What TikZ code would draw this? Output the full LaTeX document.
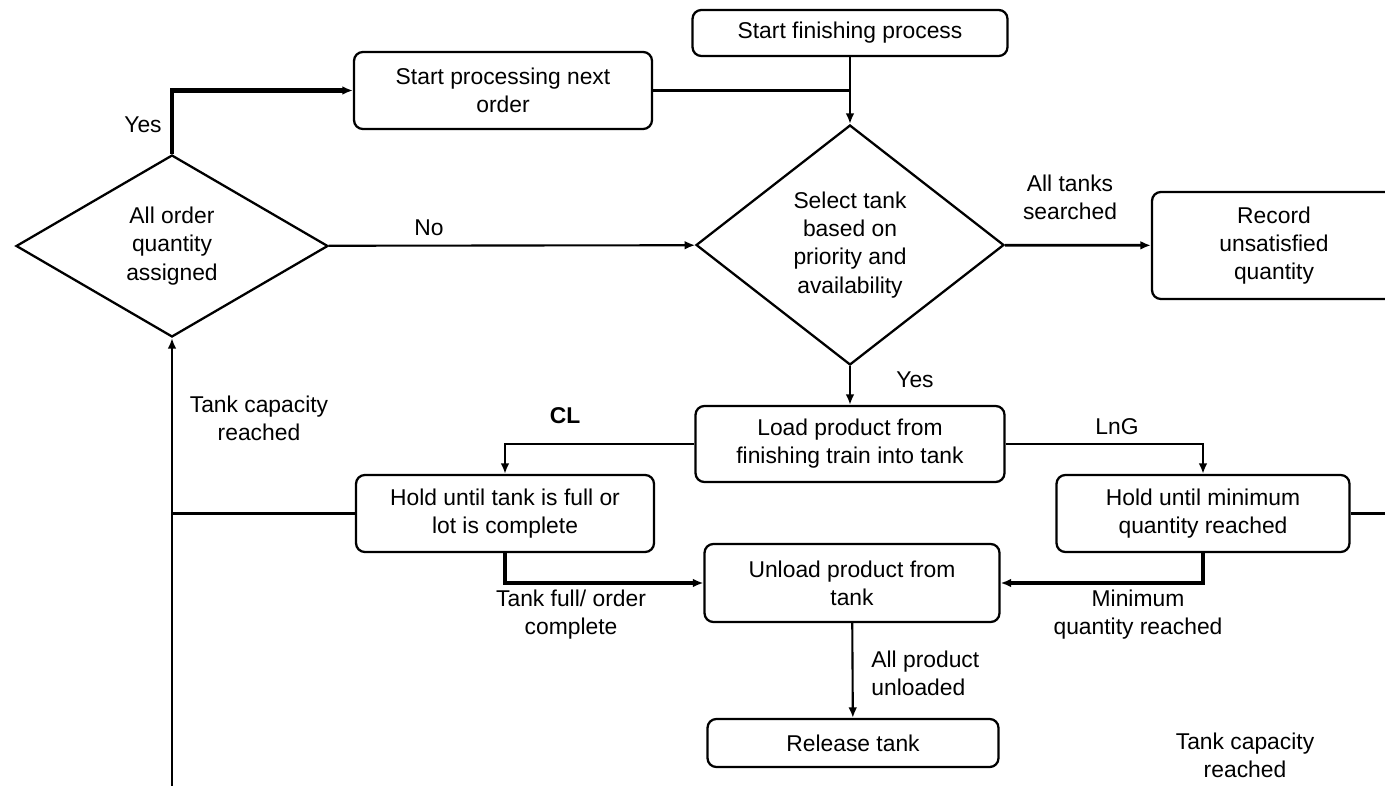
\documentclass[tikz,border=0pt]{standalone}
\usepackage{fontspec}
\setmainfont{Liberation Sans}
\usetikzlibrary{shapes.geometric,arrows.meta}

\begin{document}
\begin{tikzpicture}[x=0.02cm, y=-0.02cm,
  font=\fontsize{13}{16}\selectfont,
  box/.style={draw, line width=1.3pt, rounded corners=5pt, align=center, inner sep=2pt},
  dec/.style={draw, diamond, line width=1.3pt, align=center, inner sep=0pt},
  lbl/.style={align=center, inner sep=0pt},
  link/.style={line width=1.2pt, -{Latex[length=6pt,width=5pt]}},
  boldlink/.style={line width=2.4pt, -{Latex[length=6pt,width=5pt]}}]
\clip (0,0) rectangle (1385,786);
\node[box, minimum width=6.3cm, minimum height=0.92cm] (fin) at (850,33) {Start finishing process};
\node[box, minimum width=5.96cm, minimum height=1.54cm] (next) at (503,90.5) {Start processing next\\order};
\node[dec, minimum width=6.24cm, minimum height=3.64cm] (assign) at (172,246) {All order\\quantity\\assigned};
\node[dec, minimum width=6.16cm, minimum height=4.8cm] (sel) at (850,245) {Select tank\\based on\\priority and\\availability};
\node[box, minimum width=4.88cm, minimum height=2.14cm] (rec) at (1274,245.5) {Record\\unsatisfied\\quantity};
\node[box, minimum width=6.18cm, minimum height=1.52cm] (load) at (850,444) {Load product from\\finishing train into tank};
\node[box, minimum width=5.96cm, minimum height=1.54cm] (holdcl) at (505,513.5) {Hold until tank is full or\\lot is complete};
\node[box, minimum width=5.86cm, minimum height=1.54cm] (holdlng) at (1203,513.5) {Hold until minimum\\quantity reached};
\node[box, minimum width=5.9cm, minimum height=1.56cm] (unload) at (852,583) {Unload product from\\tank};
\node[box, minimum width=5.82cm, minimum height=0.96cm] (release) at (853,743) {Release tank};
\coordinate (bot) at (172,800);
\coordinate (redge) at (1400,513.5);

\node[lbl] (yesa) at (143,125) {Yes};
\node[lbl] (no) at (429,228) {No};
\node[lbl] (searched) at (1070,197) {All tanks\\searched};
\node[lbl] (yesb) at (915,380) {Yes};
\node[lbl] (capa) at (259,418) {Tank capacity\\reached};
\node[lbl, font=\fontsize{13}{16}\selectfont\bfseries] (cl) at (565,416) {CL};
\node[lbl] (lng) at (1117,427) {LnG};
\node[lbl] (full) at (571,615) {Tank full/ order\\complete};
\node[lbl] (minq) at (1138,615) {Minimum\\quantity reached};
\node[lbl, anchor=west, align=left] (allout) at (871,673) {All product\\unloaded};
\node[lbl] (capb) at (1245,755) {Tank capacity\\reached};

\draw[link] (fin) -- (sel);
\draw[line width=1.2pt] (next.east) -- (next.east -| sel.north);
\draw[boldlink] (assign.north) |- (next.west);
\draw[link] (assign) -- (sel);
\draw[link, line width=1.6pt] (sel) -- (rec);
\draw[link] (sel) -- (load);
\draw[link] (load.west) -| (holdcl.north);
\draw[link] (load.east) -| (holdlng.north);
\draw[line width=1.2pt] (holdcl.west) -- (holdcl.west -| assign.south);
\draw[link] (bot) -- (assign.south);
\draw[boldlink] (holdcl.south) |- (unload.west);
\draw[boldlink] (holdlng.south) |- (unload.east);
\draw[line width=1.2pt] (holdlng.east) -- (redge);
\draw[link] (unload) -- (release);
\end{tikzpicture}
\end{document}
